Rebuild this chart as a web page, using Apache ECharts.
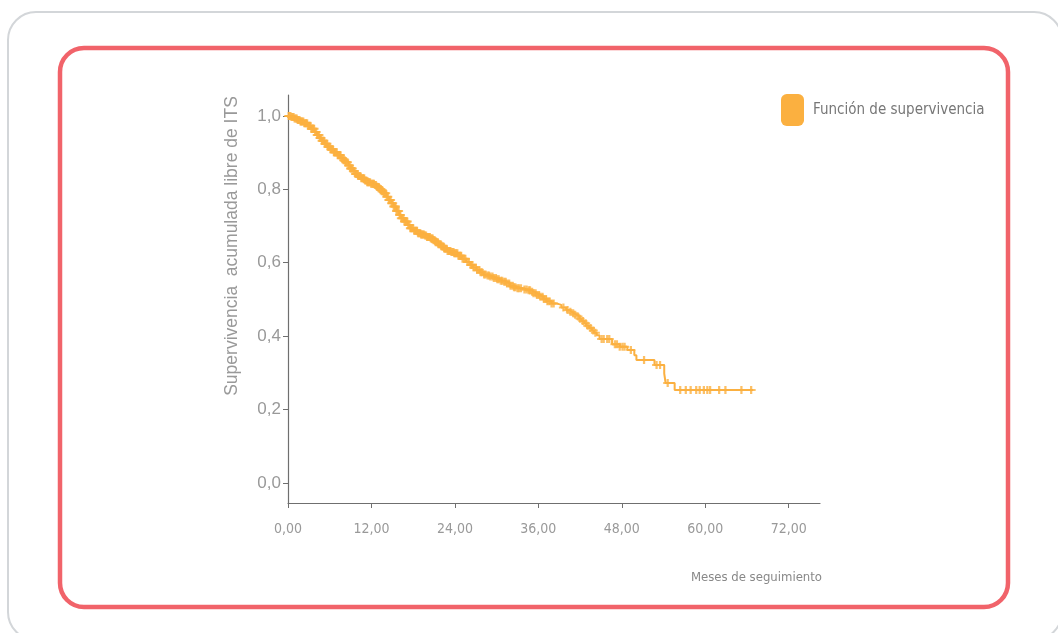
<!DOCTYPE html>
<html lang="es">
<head>
    <meta charset="UTF-8">
    <title>Función de supervivencia</title>
    <style>
        body {
            margin: 0;
            overflow: hidden;
            background: #fff;
        }
        #chart {
            width: 1058px;
            height: 633px;
        }
    </style>
</head>
<body>
    <div id="chart"></div>
    <script src="https://cdn.jsdelivr.net/npm/echarts@6/dist/echarts.min.js"></script>
    <script>
        // pasos de la curva de Kaplan-Meier: [meses, supervivencia]
        var steps = [
            [0, 1.000], [0.4, 0.997], [0.9, 0.993], [1.3, 0.989], [1.8, 0.985],
            [2.3, 0.980], [2.8, 0.973], [3.3, 0.965], [3.8, 0.956], [4.2, 0.948],
            [4.6, 0.940], [4.9, 0.932], [5.3, 0.924], [5.7, 0.916], [6.1, 0.909],
            [6.6, 0.901], [7.1, 0.893], [7.6, 0.885], [8.0, 0.879], [8.3, 0.874],
            [8.7, 0.865], [9.0, 0.857], [9.4, 0.850], [9.7, 0.842], [10.1, 0.836],
            [10.5, 0.830], [11.0, 0.824], [11.4, 0.819], [11.9, 0.815], [12.4, 0.812],
            [12.7, 0.806], [13.1, 0.801], [13.5, 0.795], [13.8, 0.789], [14.2, 0.780],
            [14.5, 0.771], [14.9, 0.762], [15.2, 0.753], [15.6, 0.741], [16.0, 0.730],
            [16.3, 0.721], [16.7, 0.712], [17.2, 0.703], [17.6, 0.694], [18.1, 0.687],
            [18.6, 0.680], [19.1, 0.677], [19.6, 0.674], [20.0, 0.670], [20.5, 0.666],
            [20.9, 0.661], [21.2, 0.656], [21.6, 0.650], [22.0, 0.644], [22.4, 0.638],
            [22.9, 0.632], [23.4, 0.629], [23.9, 0.626], [24.4, 0.619], [25.0, 0.611],
            [25.6, 0.602], [26.2, 0.594], [26.6, 0.587], [27.1, 0.580], [27.6, 0.574],
            [28.1, 0.568], [28.6, 0.565], [29.0, 0.562], [29.5, 0.558], [30.0, 0.555],
            [30.5, 0.551], [30.9, 0.548], [31.4, 0.543], [31.9, 0.537], [32.4, 0.533],
            [32.9, 0.530], [33.8, 0.527], [34.5, 0.525], [34.9, 0.521], [35.3, 0.517],
            [35.7, 0.512], [36.2, 0.507], [36.7, 0.501], [37.2, 0.495], [37.9, 0.489],
            [38.6, 0.485], [39.3, 0.478], [40.0, 0.471], [40.4, 0.466], [40.8, 0.462],
            [41.1, 0.458], [41.5, 0.453], [41.9, 0.447], [42.2, 0.441], [42.6, 0.435],
            [42.9, 0.428], [43.3, 0.422], [43.7, 0.415], [44.0, 0.409], [44.4, 0.402],
            [44.8, 0.392], [46.6, 0.378], [47.7, 0.371], [48.8, 0.362], [49.8, 0.348],
            [50.1, 0.335], [52.7, 0.321], [54.1, 0.298], [54.3, 0.272], [55.6, 0.253],
            [66.9, 0.253]
        ];

        // tiempos censurados (marcas +)
        var censored = [
            0.1, 0.2, 0.35, 0.5, 0.65, 0.8, 0.95, 1.1, 1.25, 1.4, 1.5, 1.65, 1.8, 1.9,
            2.05, 2.2, 2.35, 2.5, 2.6, 2.75, 2.9, 3.05, 3.2, 3.35, 3.5, 3.6, 3.75, 3.9,
            4.05, 4.2, 4.3, 4.45, 4.6, 4.75, 4.9, 5.0, 5.15, 5.3, 5.45, 5.6, 5.75, 5.85,
            6.0, 6.15, 6.3, 6.45, 6.6, 6.7, 6.85, 7.0, 7.15, 7.3, 7.45, 7.55, 7.7, 7.85,
            8.0, 8.15, 8.3, 8.4, 8.55, 8.7, 8.85, 9.0, 9.1, 9.25, 9.4, 9.55, 9.7, 9.85,
            9.95, 10.1, 10.25, 10.4, 10.55, 10.7, 10.8, 10.95, 11.1, 11.25, 11.4, 11.5,
            11.65, 11.8, 11.95, 12.1, 12.25, 12.35, 12.5, 12.65, 12.8, 12.95, 13.05, 13.2,
            13.35, 13.5, 13.65, 13.8, 13.9, 14.05, 14.2, 14.35, 14.5, 14.6, 14.75, 14.9,
            15.05, 15.2, 15.35, 15.45, 15.6, 15.75, 15.9, 16.05, 16.15, 16.3, 16.45, 16.6,
            16.75, 16.9, 17.0, 17.15, 17.3, 17.45, 17.6, 17.7, 17.85, 18.0, 18.15, 18.3,
            18.45, 18.55, 18.7, 18.85, 19.0, 19.15, 19.25, 19.4, 19.55, 19.7, 19.85, 20.0,
            20.1, 20.25, 20.4, 20.55, 20.7, 20.8, 20.95, 21.1, 21.25, 21.4, 21.55, 21.65,
            21.8, 21.95, 22.1, 22.25, 22.35, 22.5, 22.65, 22.8, 22.95, 23.1, 23.2, 23.35,
            23.5, 23.65, 23.8, 23.9, 24.05, 24.2, 24.35, 24.5, 24.65, 24.75, 24.9,
            25.1, 25.3, 25.5, 25.8, 26.0, 26.3, 26.5, 26.7, 27.0, 27.2, 27.5, 27.7, 27.9,
            28.2, 28.4, 28.7, 28.9, 29.1, 29.4, 29.6, 29.9, 30.1, 30.3, 30.6, 30.8, 31.1,
            31.3, 31.5, 31.8, 32.0, 32.3, 32.5, 32.7, 33.0, 33.2, 33.5, 34.0, 34.3, 34.6,
            34.8, 35.1, 35.3, 35.6, 35.8, 36.1, 36.3, 36.6, 36.8, 37.1, 37.3, 37.6, 37.9,
            38.2, 39.6, 40.2, 40.6, 41.0, 41.3, 41.7, 42.0, 42.4, 42.8, 43.1, 43.5, 43.9,
            44.2, 45.1, 45.4, 45.9, 46.2, 47.0, 47.3, 47.7, 48.1, 48.4, 49.3, 51.2, 53.0,
            53.5, 54.6, 56.4, 57.2, 57.9, 58.7, 59.2, 59.8, 60.3, 60.7, 62.0, 62.9, 65.2,
            66.6
        ];

        var xTicks = [0, 12, 24, 36, 48, 60, 72];
        var yTicks = [0, 0.2, 0.4, 0.6, 0.8, 1.0];

        var seriesName = 'Función de supervivencia';
        var orange = '#fbb040';
        var narrow = "'Liberation Sans Narrow', 'DejaVu Sans Condensed', 'Liberation Sans', sans-serif";

        // la marca se sitúa sobre el escalón vigente en ese tiempo
        function survAt(t) {
            var s = steps[0][1];
            for (var i = 0; i < steps.length; i++) {
                if (steps[i][0] <= t) s = steps[i][1];
            }
            return s;
        }
        var censorData = censored.map(function (t) {
            return [t, survAt(t)];
        });

        var myChart = echarts.init(document.getElementById('chart'));

        var option = {
            animation: false,
            backgroundColor: '#fff',
            graphic: [
                {
                    type: 'rect',
                    silent: true,
                    shape: { x: 8, y: 12, width: 1054, height: 628, r: 28 },
                    style: { fill: 'none', stroke: '#d3d6d9', lineWidth: 2 }
                },
                {
                    type: 'rect',
                    silent: true,
                    shape: { x: 60, y: 48, width: 948, height: 559, r: 24 },
                    style: { fill: 'none', stroke: '#f1636a', lineWidth: 4.5 }
                },
                {
                    type: 'text',
                    x: 232,
                    y: 246,
                    rotation: Math.PI / 2,
                    style: {
                        text: 'Supervivencia  acumulada libre de ITS',
                        fill: '#999',
                        fontSize: 17.5,
                        fontFamily: 'Liberation Sans, sans-serif',
                        align: 'center',
                        verticalAlign: 'middle'
                    }
                },
                {
                    type: 'text',
                    x: 822,
                    y: 578,
                    style: {
                        text: 'Meses de seguimiento',
                        fill: '#888',
                        fontSize: 13,
                        fontFamily: narrow,
                        align: 'right',
                        verticalAlign: 'middle'
                    }
                }
            ],
            legend: {
                data: [{ name: seriesName, icon: 'roundRect' }],
                left: 781,
                top: 94,
                padding: 0,
                itemWidth: 23,
                itemHeight: 32,
                selectedMode: false,
                textStyle: {
                    color: '#777',
                    fontSize: 15,
                    fontFamily: narrow,
                    padding: [4, 0, 0, 4]
                }
            },
            grid: {
                left: 288,
                right: 238,
                top: 95,
                bottom: 130
            },
            xAxis: {
                type: 'value',
                min: 0,
                max: 76.5,
                axisLine: { onZero: false, lineStyle: { color: '#6f6f6f', width: 1.2 } },
                axisTick: { length: 5, customValues: xTicks, lineStyle: { color: '#6f6f6f' } },
                axisLabel: {
                    customValues: xTicks,
                    margin: 19,
                    color: '#999',
                    fontSize: 14,
                    fontFamily: narrow,
                    formatter: function (v) { return v.toFixed(2).replace('.', ','); }
                },
                splitLine: { show: false }
            },
            yAxis: {
                type: 'value',
                min: -0.055,
                max: 1.057,
                axisLine: { show: true, onZero: false, lineStyle: { color: '#6f6f6f', width: 1.2 } },
                axisTick: { show: true, length: 5, customValues: yTicks, lineStyle: { color: '#6f6f6f' } },
                axisLabel: {
                    customValues: yTicks,
                    margin: 7,
                    color: '#999',
                    fontSize: 17,
                    fontFamily: 'Liberation Sans, sans-serif',
                    formatter: function (v) { return v.toFixed(1).replace('.', ','); }
                },
                splitLine: { show: false }
            },
            series: [
                {
                    name: seriesName,
                    type: 'line',
                    step: 'end',
                    symbol: 'none',
                    color: orange,
                    lineStyle: { color: orange, width: 2 },
                    data: steps,
                    z: 2
                },
                {
                    name: 'censurados',
                    type: 'scatter',
                    symbol: 'path://M3,0H5V3H8V5H5V8H3V5H0V3H3Z',
                    symbolSize: [9, 8],
                    itemStyle: { color: orange },
                    data: censorData,
                    z: 3
                }
            ]
        };

        myChart.setOption(option);
    </script>
</body>
</html>
